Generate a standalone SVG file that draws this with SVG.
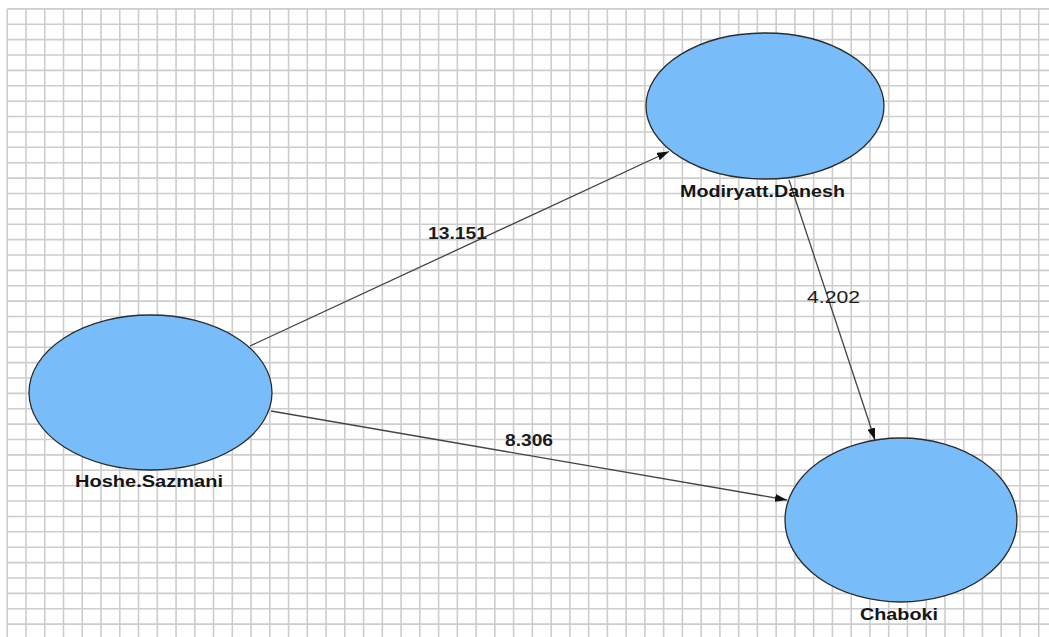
<svg xmlns="http://www.w3.org/2000/svg" width="1049" height="637" viewBox="0 0 1049 637">
<defs>
<style>
.grid{stroke:#cdcdcd;stroke-width:1.6;fill:none}
.node{fill:#78bdf9;stroke:#2b2b2b;stroke-width:1.3}
.lbl{font-family:"Liberation Sans",Arial,sans-serif;font-weight:bold;font-size:17px;fill:#151515}
.elbl{font-family:"Liberation Sans",Arial,sans-serif;font-size:16px;fill:#1c1c1c}
.edge{stroke:#444;stroke-width:1.3;fill:none;marker-end:url(#arr)}
</style>
<marker id="arr" markerUnits="userSpaceOnUse" markerWidth="12" markerHeight="8" refX="12" refY="4" orient="auto">
<path d="M0,0 L12,4 L0,8 z" fill="#111"/>
</marker>
</defs>
<rect width="1049" height="637" fill="#ffffff"/>
<g id="grid" class="grid">
<path d="M7.25,8.9V637M26,8.9V637M44.76,8.9V637M63.51,8.9V637M82.27,8.9V637M101.02,8.9V637M119.77,8.9V637M138.53,8.9V637M157.28,8.9V637M176.04,8.9V637M194.79,8.9V637M213.54,8.9V637M232.3,8.9V637M251.05,8.9V637M269.81,8.9V637M288.56,8.9V637M307.31,8.9V637M326.07,8.9V637M344.82,8.9V637M363.58,8.9V637M382.33,8.9V637M401.08,8.9V637M419.84,8.9V637M438.59,8.9V637M457.35,8.9V637M476.1,8.9V637M494.85,8.9V637M513.61,8.9V637M532.36,8.9V637M551.12,8.9V637M569.87,8.9V637M588.62,8.9V637M607.38,8.9V637M626.13,8.9V637M644.89,8.9V637M663.64,8.9V637M682.39,8.9V637M701.15,8.9V637M719.9,8.9V637M738.66,8.9V637M757.41,8.9V637M776.16,8.9V637M794.92,8.9V637M813.67,8.9V637M832.43,8.9V637M851.18,8.9V637M869.93,8.9V637M888.69,8.9V637M907.44,8.9V637M926.2,8.9V637M944.95,8.9V637M963.7,8.9V637M982.46,8.9V637M1001.21,8.9V637M1019.97,8.9V637M1038.72,8.9V637"/>
<path d="M7.25,8.9H1049M7.25,24.28H1049M7.25,39.66H1049M7.25,55.04H1049M7.25,70.42H1049M7.25,85.8H1049M7.25,101.18H1049M7.25,116.56H1049M7.25,131.94H1049M7.25,147.32H1049M7.25,162.7H1049M7.25,178.08H1049M7.25,193.46H1049M7.25,208.84H1049M7.25,224.22H1049M7.25,239.6H1049M7.25,254.98H1049M7.25,270.36H1049M7.25,285.74H1049M7.25,301.12H1049M7.25,316.5H1049M7.25,331.88H1049M7.25,347.26H1049M7.25,362.64H1049M7.25,378.02H1049M7.25,393.4H1049M7.25,408.78H1049M7.25,424.16H1049M7.25,439.54H1049M7.25,454.92H1049M7.25,470.3H1049M7.25,485.68H1049M7.25,501.06H1049M7.25,516.44H1049M7.25,531.82H1049M7.25,547.2H1049M7.25,562.58H1049M7.25,577.96H1049M7.25,593.34H1049M7.25,608.72H1049M7.25,624.1H1049"/>
</g>
<g id="connectors">
<line class="edge" x1="250" y1="346" x2="669" y2="151.5"/>
<line class="edge" x1="789" y1="180" x2="875" y2="440"/>
<line class="edge" x1="271" y1="411" x2="787" y2="500"/>
<text class="elbl" font-weight="bold" x="428" y="239" textLength="59" lengthAdjust="spacingAndGlyphs">13.151</text>
<text class="elbl" font-size="17" x="807" y="303" textLength="53" lengthAdjust="spacingAndGlyphs">4.202</text>
<text class="elbl" font-weight="bold" x="505" y="446" textLength="48" lengthAdjust="spacingAndGlyphs">8.306</text>
</g>
<g id="node-modiryatt">
<ellipse class="node" cx="765" cy="106" rx="119" ry="73"/>
<text class="lbl" x="680" y="197" textLength="165" lengthAdjust="spacingAndGlyphs">Modiryatt.Danesh</text>
</g>
<g id="node-hoshe">
<ellipse class="node" cx="150.5" cy="392.5" rx="121.5" ry="77.5"/>
<text class="lbl" x="75" y="487" textLength="148" lengthAdjust="spacingAndGlyphs">Hoshe.Sazmani</text>
</g>
<g id="node-chaboki">
<ellipse class="node" cx="901" cy="520" rx="116" ry="82"/>
<text class="lbl" x="860" y="620" textLength="78" lengthAdjust="spacingAndGlyphs">Chaboki</text>
</g>
</svg>
